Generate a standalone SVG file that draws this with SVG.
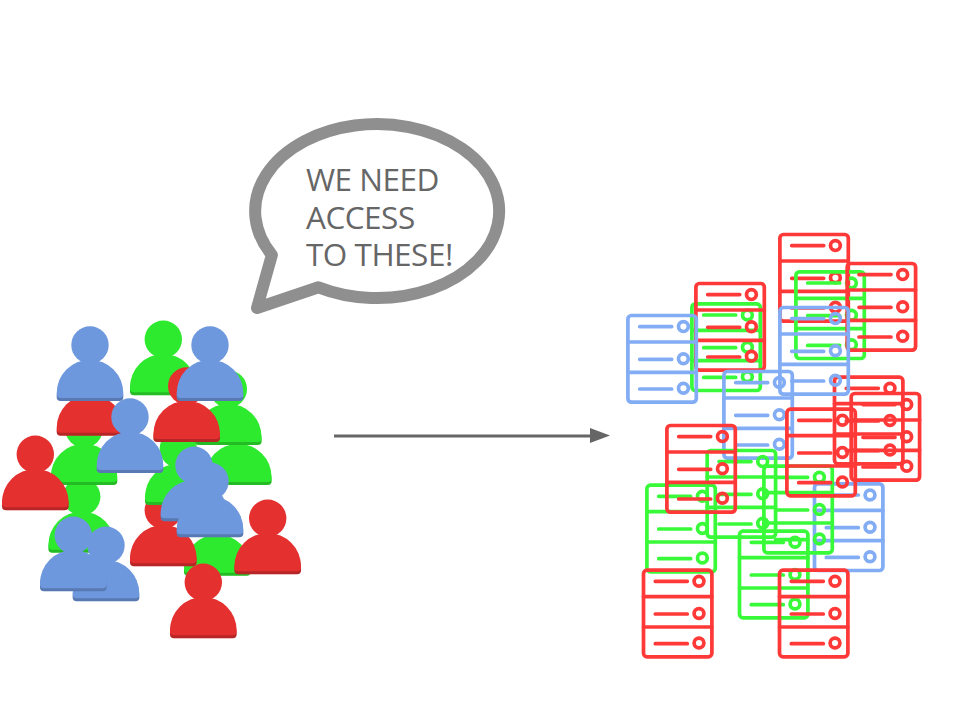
<svg xmlns="http://www.w3.org/2000/svg" xmlns:xlink="http://www.w3.org/1999/xlink" width="960" height="720" viewBox="0 0 960 720">
<style>
.pr{fill:#e53030}.pg{fill:#2eea2e}.pb{fill:#6e98de}
.sr{stroke:#ff3838}.sg{stroke:#38fa38}.sb{stroke:#82adf5}
.srv{fill:none;stroke-width:3.7;stroke-linecap:round}
.bubble{fill:#fff;stroke:#8f8f8f;stroke-width:12;stroke-linejoin:round}
.say{font-family:"Open Sans",sans-serif;font-size:31.5px;letter-spacing:-.5px;fill:#666}
</style>
<defs>
<g id="person">
<path d="M-33.3 51A33.3 33.3 0 0 1 33.3 51V52A4 4 0 0 1 29.3 56H-29.3A4 4 0 0 1-33.3 52Z"/>
<path d="M-33.3 51A33.3 33.3 0 0 1 33.3 51V52A4 4 0 0 1 29.3 56H-29.3A4 4 0 0 1-33.3 52Z" fill="#000" opacity=".2"/>
<path d="M-33.3 48A33.3 33.3 0 0 1 33.3 48V49A4 4 0 0 1 29.3 53H-29.3A4 4 0 0 1-33.3 49Z"/>
<circle r="18.7"/>
</g>
<g id="server" class="srv">
<rect x="1.2" y="1.2" width="68.4" height="86.6" rx="3.5"/>
<path d="M1.2 27.7H69.6M1.2 58H69.6M13 12.3H45M13 45H45M13 74.7H45"/>
<circle cx="56.7" cy="12.3" r="4.9"/><circle cx="56.7" cy="44.5" r="4.9"/><circle cx="56.7" cy="74" r="4.9"/>
</g>
</defs>
<g id="bubble">
<path class="bubble" d="M318.5 287.3A122 87 0 1 0 271.9 255L257 308Z"/>
<text class="say"><tspan x="306" y="190.5">WE NEED</tspan><tspan x="306" y="228.5">ACCESS</tspan><tspan x="306" y="266">TO THESE!</tspan></text>
</g>
<g id="connectors">
<path d="M334 436H592" stroke="#666" stroke-width="3" fill="none"/>
<polygon points="590,428 610,435.5 590,443" fill="#666"/>
</g>
<g id="users">
<g id="user1" class="pg"><use xlink:href="#person" href="#person" x="217.3" y="519.7"/></g>
<g id="user2" class="pr"><use xlink:href="#person" href="#person" x="163.3" y="510.3"/></g>
<g id="user3" class="pg"><use xlink:href="#person" href="#person" x="178.3" y="449"/></g>
<g id="user4" class="pg"><use xlink:href="#person" href="#person" x="81.7" y="496.7"/></g>
<g id="user5" class="pg"><use xlink:href="#person" href="#person" x="84" y="429"/></g>
<g id="user6" class="pg"><use xlink:href="#person" href="#person" x="238.3" y="429"/></g>
<g id="user7" class="pg"><use xlink:href="#person" href="#person" x="228.3" y="389"/></g>
<g id="user8" class="pg"><use xlink:href="#person" href="#person" x="163.3" y="339.3"/></g>
<g id="user9" class="pr"><use xlink:href="#person" href="#person" x="90" y="379.7"/></g>
<g id="user10" class="pr"><use xlink:href="#person" href="#person" x="186.7" y="386"/></g>
<g id="user11" class="pr"><use xlink:href="#person" href="#person" x="35.3" y="454.3"/></g>
<g id="user12" class="pr"><use xlink:href="#person" href="#person" x="267.7" y="518.3"/></g>
<g id="user13" class="pr"><use xlink:href="#person" href="#person" x="203.3" y="582.3"/></g>
<g id="user14" class="pb"><use xlink:href="#person" href="#person" x="90" y="345"/></g>
<g id="user15" class="pb"><use xlink:href="#person" href="#person" x="210" y="345"/></g>
<g id="user16" class="pb"><use xlink:href="#person" href="#person" x="130" y="417"/></g>
<g id="user17" class="pb"><use xlink:href="#person" href="#person" x="194" y="465.3"/></g>
<g id="user18" class="pb"><use xlink:href="#person" href="#person" x="210" y="481.3"/></g>
<g id="user19" class="pb"><use xlink:href="#person" href="#person" x="106" y="545.3"/></g>
<g id="user20" class="pb"><use xlink:href="#person" href="#person" x="73.3" y="535.3"/></g>
</g>
<g id="servers">
<g id="server1" class="sg"><use xlink:href="#server" href="#server" x="690.7" y="302.7"/></g>
<g id="server2" class="sr"><use xlink:href="#server" href="#server" x="694.7" y="282.3"/></g>
<g id="server3" class="sr"><use xlink:href="#server" href="#server" x="778.7" y="233.3"/></g>
<g id="server4" class="sg"><use xlink:href="#server" href="#server" x="794.7" y="270.7"/></g>
<g id="server5" class="sr"><use xlink:href="#server" href="#server" x="846" y="262.3"/></g>
<g id="server6" class="sr"><use xlink:href="#server" href="#server" x="833.3" y="376"/></g>
<g id="server7" class="sr"><use xlink:href="#server" href="#server" x="850" y="392.3"/></g>
<g id="server8" class="sb"><use xlink:href="#server" href="#server" x="626.7" y="314.3"/></g>
<g id="server9" class="sb"><use xlink:href="#server" href="#server" x="778.7" y="306.3"/></g>
<g id="server10" class="sb"><use xlink:href="#server" href="#server" x="722.7" y="370.3"/></g>
<g id="server11" class="sb"><use xlink:href="#server" href="#server" x="813.3" y="482.7"/></g>
<g id="server12" class="sg"><use xlink:href="#server" href="#server" x="706" y="449.3"/></g>
<g id="server13" class="sg"><use xlink:href="#server" href="#server" x="762.7" y="465"/></g>
<g id="server14" class="sg"><use xlink:href="#server" href="#server" x="645.7" y="484"/></g>
<g id="server15" class="sg"><use xlink:href="#server" href="#server" x="738.3" y="530"/></g>
<g id="server16" class="sr"><use xlink:href="#server" href="#server" x="785.7" y="408"/></g>
<g id="server17" class="sr"><use xlink:href="#server" href="#server" x="665.7" y="424.3"/></g>
<g id="server18" class="sr"><use xlink:href="#server" href="#server" x="642.3" y="569"/></g>
<g id="server19" class="sr"><use xlink:href="#server" href="#server" x="778.3" y="569"/></g>
</g>
</svg>
